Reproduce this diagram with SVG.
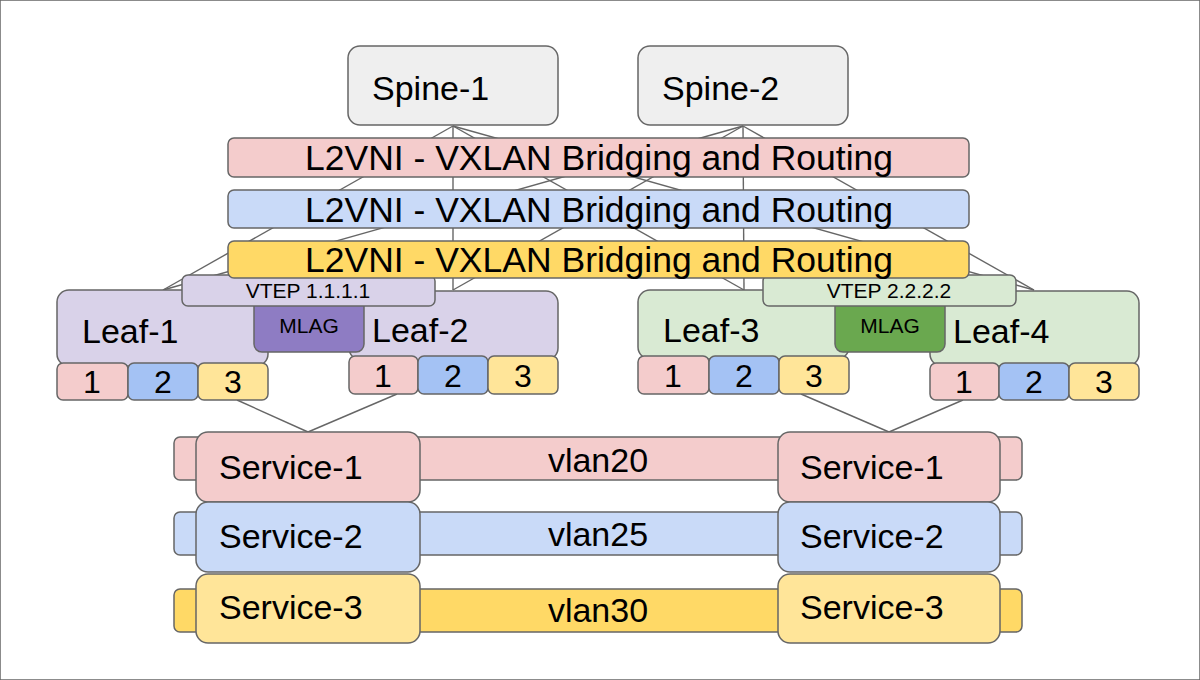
<svg xmlns="http://www.w3.org/2000/svg" width="1200" height="680" viewBox="0 0 1200 680">
<style>
rect{stroke:#666666;stroke-width:1.5}
.ln{stroke:#666666;stroke-width:1.4;fill:none}
text{font-family:"Liberation Sans",Arial,sans-serif;fill:#000000}
.big{font-size:34px}
.bar{font-size:35.5px;text-anchor:middle}
.port{font-size:32px;text-anchor:middle}
.sm{font-size:21px;text-anchor:middle}
.pink{fill:#f4cccc}
.blue{fill:#c9daf8}
.yel{fill:#ffd966}
.lyel{fill:#ffe599}
.pblue{fill:#a4c2f4}
.purp{fill:#d9d2e9}
.grn{fill:#d9ead3}
</style>
<rect x="0" y="0" width="1200" height="680" fill="#ffffff" stroke="none"/>
<g id="connectors">
<line class="ln" x1="453" y1="126" x2="163" y2="290"/>
<line class="ln" x1="453" y1="126" x2="453" y2="290"/>
<line class="ln" x1="453" y1="126" x2="744" y2="290"/>
<line class="ln" x1="453" y1="126" x2="1034" y2="290"/>
<line class="ln" x1="743" y1="126" x2="163" y2="290"/>
<line class="ln" x1="743" y1="126" x2="453" y2="290"/>
<line class="ln" x1="743" y1="126" x2="744" y2="290"/>
<line class="ln" x1="743" y1="126" x2="1034" y2="290"/>
<line class="ln" x1="237" y1="400" x2="308" y2="432"/>
<line class="ln" x1="397" y1="394" x2="308" y2="432"/>
<line class="ln" x1="801" y1="394" x2="889" y2="432"/>
<line class="ln" x1="963" y1="400" x2="889" y2="432"/>
</g>
<g id="spine-1">
<rect x="348" y="46" width="210" height="79" rx="12" fill="#efefef"/>
<text class="big" x="372" y="100">Spine-1</text>
</g>
<g id="spine-2">
<rect x="638" y="46" width="210" height="79" rx="12" fill="#efefef"/>
<text class="big" x="662" y="100">Spine-2</text>
</g>
<g id="leaf-1">
<rect class="purp" x="57" y="290" width="211" height="76" rx="12"/>
<text class="big" x="82" y="343">Leaf-1</text>
<rect class="pink" x="57" y="363" width="71" height="37" rx="6"/>
<rect class="pblue" x="128" y="363" width="70" height="37" rx="6"/>
<rect class="lyel" x="198" y="363" width="70" height="37" rx="6"/>
<text class="port" x="92" y="393">1</text>
<text class="port" x="163" y="393">2</text>
<text class="port" x="233" y="393">3</text>
</g>
<g id="leaf-2">
<rect class="purp" x="349" y="291" width="209" height="69" rx="12"/>
<text class="big" x="372" y="342">Leaf-2</text>
<rect class="pink" x="349" y="356" width="69" height="38" rx="6"/>
<rect class="pblue" x="418" y="356" width="70" height="38" rx="6"/>
<rect class="lyel" x="488" y="356" width="70" height="38" rx="6"/>
<text class="port" x="383" y="387">1</text>
<text class="port" x="453" y="387">2</text>
<text class="port" x="523" y="387">3</text>
</g>
<g id="mlag-1">
<rect x="254" y="298" width="110" height="54" rx="8" fill="#8e7cc3"/>
<text class="sm" x="309" y="333">MLAG</text>
</g>
<g id="vtep-1">
<rect class="purp" x="182" y="275" width="253" height="31" rx="6"/>
<text class="sm" x="308" y="298">VTEP 1.1.1.1</text>
</g>
<g id="leaf-3">
<rect class="grn" x="638" y="290" width="211" height="69" rx="12"/>
<text class="big" x="663" y="342">Leaf-3</text>
<rect class="pink" x="638" y="356" width="71" height="38" rx="6"/>
<rect class="pblue" x="709" y="356" width="70" height="38" rx="6"/>
<rect class="lyel" x="779" y="356" width="70" height="38" rx="6"/>
<text class="port" x="673" y="387">1</text>
<text class="port" x="744" y="387">2</text>
<text class="port" x="814" y="387">3</text>
</g>
<g id="leaf-4">
<rect class="grn" x="930" y="291" width="209" height="75" rx="12"/>
<text class="big" x="953" y="343">Leaf-4</text>
<rect class="pink" x="930" y="363" width="69" height="37" rx="6"/>
<rect class="pblue" x="999" y="363" width="70" height="37" rx="6"/>
<rect class="lyel" x="1069" y="363" width="70" height="37" rx="6"/>
<text class="port" x="964" y="393">1</text>
<text class="port" x="1034" y="393">2</text>
<text class="port" x="1104" y="393">3</text>
</g>
<g id="mlag-2">
<rect x="835" y="298" width="110" height="54" rx="8" fill="#6aa84f"/>
<text class="sm" x="890" y="333">MLAG</text>
</g>
<g id="vtep-2">
<rect class="grn" x="763" y="275" width="253" height="31" rx="6"/>
<text class="sm" x="889" y="298">VTEP 2.2.2.2</text>
</g>
<g id="l2vni-1">
<rect class="pink" x="228" y="138" width="741" height="39" rx="6"/>
<text class="bar" x="599" y="170">L2VNI - VXLAN Bridging and Routing</text>
</g>
<g id="l2vni-2">
<rect class="blue" x="228" y="190" width="741" height="38" rx="6"/>
<text class="bar" x="599" y="222">L2VNI - VXLAN Bridging and Routing</text>
</g>
<g id="l2vni-3">
<rect class="yel" x="228" y="241" width="741" height="37" rx="6"/>
<text class="bar" x="599" y="272">L2VNI - VXLAN Bridging and Routing</text>
</g>
<g id="vlan20">
<rect class="pink" x="174" y="437" width="848" height="43" rx="6"/>
<text class="big" x="598" y="472" text-anchor="middle">vlan20</text>
</g>
<g id="vlan25">
<rect class="blue" x="174" y="512" width="848" height="43" rx="6"/>
<text class="big" x="598" y="546" text-anchor="middle">vlan25</text>
</g>
<g id="vlan30">
<rect class="yel" x="174" y="589" width="848" height="43" rx="6"/>
<text class="big" x="598" y="622" text-anchor="middle">vlan30</text>
</g>
<g id="service-1-left">
<rect class="pink" x="196" y="432" width="224" height="70" rx="12"/>
<text class="big" x="219" y="479">Service-1</text>
</g>
<g id="service-1-right">
<rect class="pink" x="778" y="432" width="222" height="70" rx="12"/>
<text class="big" x="800" y="479">Service-1</text>
</g>
<g id="service-2-left">
<rect class="blue" x="196" y="502" width="224" height="70" rx="12"/>
<text class="big" x="219" y="548">Service-2</text>
</g>
<g id="service-2-right">
<rect class="blue" x="778" y="502" width="222" height="70" rx="12"/>
<text class="big" x="800" y="548">Service-2</text>
</g>
<g id="service-3-left">
<rect class="lyel" x="196" y="574" width="224" height="69" rx="12"/>
<text class="big" x="219" y="619">Service-3</text>
</g>
<g id="service-3-right">
<rect class="lyel" x="778" y="574" width="222" height="69" rx="12"/>
<text class="big" x="800" y="619">Service-3</text>
</g>
</svg>
